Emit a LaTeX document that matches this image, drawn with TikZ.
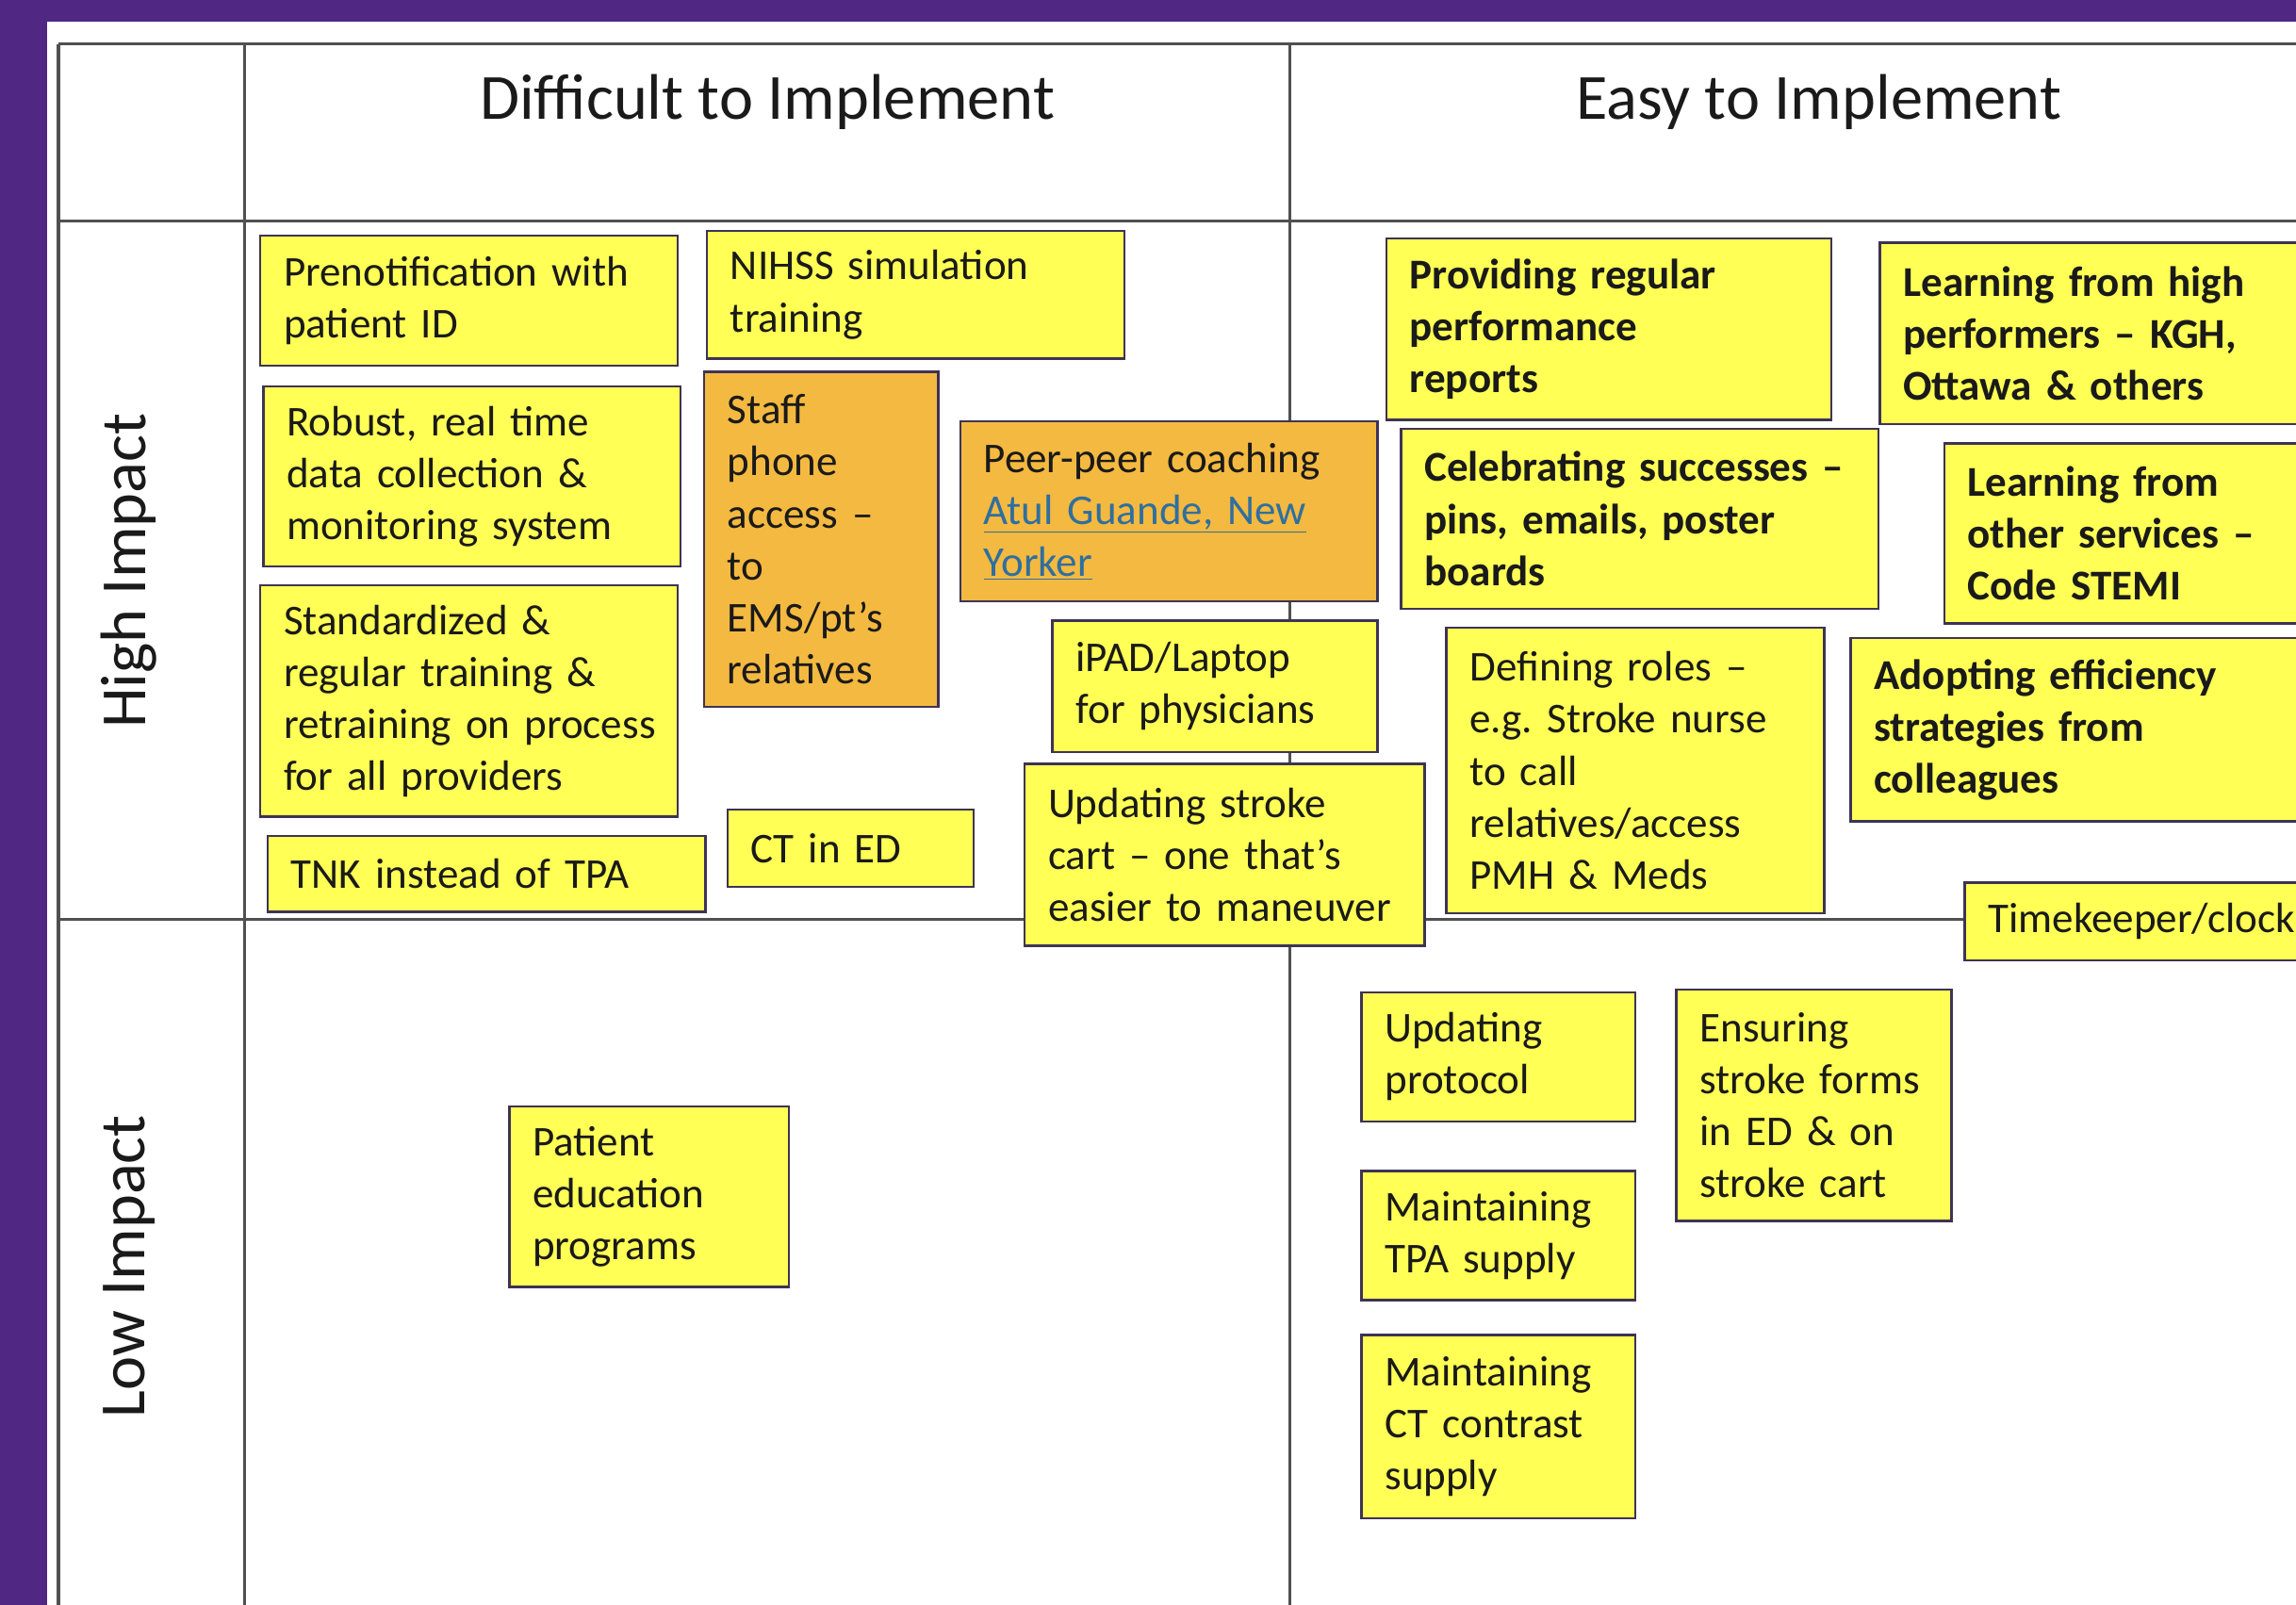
\documentclass[tikz,border=0pt]{standalone}
\usepackage{fontspec}
\setmainfont{Carlito}
\hyphenpenalty=10000
\exhyphenpenalty=10000
\AtBeginDocument{\frenchspacing}
\definecolor{bgpurple}{HTML}{512784}
\definecolor{stickyyellow}{HTML}{FFFF55}
\definecolor{stickyorange}{HTML}{F4B940}
\definecolor{boxedge}{HTML}{3E3355}
\definecolor{gridline}{HTML}{505050}
\definecolor{linkblue}{HTML}{2F6F9F}
\definecolor{inktext}{HTML}{1A1A1A}
\tikzset{
  box/.style={draw=boxedge, line width=1.6pt, rectangle, inner xsep=16pt, inner ysep=0pt,
    align=left, text=inktext, font=\fontsize{29}{35.5}\selectfont},
  yel/.style={fill=stickyyellow},
  org/.style={fill=stickyorange},
  bld/.style={font=\fontsize{29}{35.5}\selectfont\bfseries},
  header/.style={font=\fontsize{44}{50}\selectfont, text=inktext},
  grid/.style={draw=gridline, line width=2.2pt}
}
\newcommand\bx[7]{%
  \pgfmathsetmacro\tw{#4-32}%
  \node[box,#6,text width=\tw pt,minimum width=#4pt,minimum height=#5pt,anchor=north west] (#1) at (#2,#3) {#7};}
\begin{document}
\begin{tikzpicture}[x=1pt,y=-1pt]
\useasboundingbox (0,0) rectangle (1568,1096);
\fill[bgpurple] (0,0) rectangle (1568,1096);
\fill[white] (32,15) rectangle (1580,1110);
% grid
\coordinate (tl) at (40,30);
\coordinate (c1t) at (167,30);
\coordinate (c2t) at (881,30);
\coordinate (trt) at (1600,30);
\coordinate (blb) at (40,1120);
\coordinate (c1b) at (167,1120);
\coordinate (c2b) at (881,1120);
\coordinate (h1l) at (40,151);
\coordinate (h1r) at (1600,151);
\coordinate (h2l) at (40,628);
\coordinate (h2r) at (1600,628);
\draw[grid] (tl) -- (trt);
\draw[grid] (h1l) -- (h1r);
\draw[grid] (h2l) -- (h2r);
\draw[grid] (tl) -- (blb);
\draw[grid] (c1t) -- (c1b);
\draw[grid] (c2t) -- (c2b);
% headers
\node[header] (hdiff) at (524,70) {Difficult to Implement};
\node[header] (heasy) at (1242,70) {Easy to Implement};
\node[header, rotate=90] (hhigh) at (88,390) {High Impact};
\node[header, rotate=90] (hlow) at (88,865) {Low Impact};
% boxes
\bx{pre}{177}{160}{285}{89}{yel}{Prenotification with\\patient ID}
\bx{nihss}{482}{157}{285}{87}{yel}{NIHSS simulation\\training}
\bx{robust}{179}{263}{285}{123}{yel}{Robust, real time\\data collection \&\\monitoring system}
\bx{staff}{480}{253}{160}{229}{org}{Staff\\phone\\access –\\to\\EMS/pt’s\\relatives}
\bx{peer}{655}{287}{285}{123}{org}{Peer-peer coaching\\{\color{linkblue}\underline{Atul Guande, New}}\\{\color{linkblue}\underline{Yorker}}}
\bx{std}{177}{399}{285}{158}{yel}{Standardized \&\\regular training \&\\\mbox{retraining on process}\\for all providers}
\bx{ipad}{718}{423}{222}{90}{yel}{iPAD/Laptop\\for physicians}
\bx{tnk}{182}{570}{299}{52}{yel}{TNK instead of TPA}
\bx{ct}{496}{552}{168}{53}{yel}{CT in ED}
\bx{cart}{699}{521}{273}{124}{yel}{Updating stroke\\cart – one that’s\\easier to maneuver}
\bx{prov}{946}{162}{304}{124}{yel,bld}{Providing regular\\performance\\reports}
\bx{lhigh}{1283}{165}{400}{124}{yel,bld}{Learning from high\\performers – KGH,\\Ottawa \& others}
\bx{celeb}{956}{292}{326}{123}{yel,bld}{Celebrating successes –\\pins, emails, poster\\boards}
\bx{lother}{1327}{302}{350}{123}{yel,bld}{Learning from\\other services –\\Code STEMI}
\bx{def}{987}{428}{258}{195}{yel}{Defining roles –\\e.g. Stroke nurse\\to call\\relatives/access\\PMH \& Meds}
\bx{adopt}{1263}{435}{400}{125}{yel,bld}{Adopting efficiency\\strategies from\\colleagues}
\bx{time}{1341}{602}{300}{53}{yel}{Timekeeper/clock}
\bx{uproto}{929}{677}{187}{88}{yel}{Updating\\protocol}
\bx{ensure}{1144}{675}{188}{158}{yel}{Ensuring\\stroke forms\\in ED \& on\\stroke cart}
\bx{mtpa}{929}{799}{187}{88}{yel}{Maintaining\\TPA supply}
\bx{mct}{929}{911}{187}{125}{yel}{Maintaining\\CT contrast\\supply}
\bx{pated}{347}{755}{191}{123}{yel}{Patient\\education\\programs}
\end{tikzpicture}
\end{document}
